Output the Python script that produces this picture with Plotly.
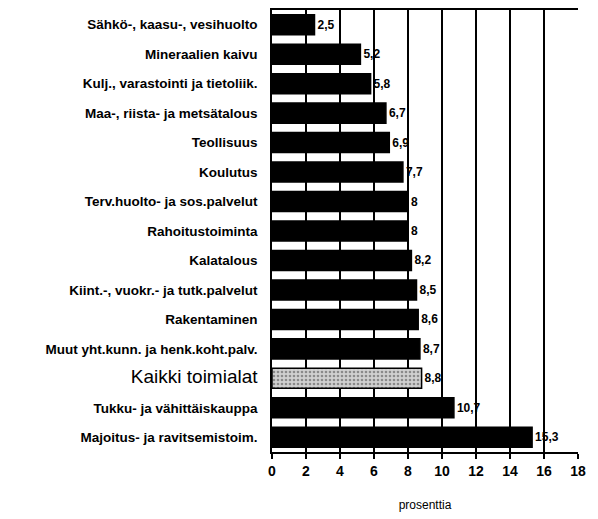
import plotly.graph_objects as go

# Toimialat ylhäältä alas
toimialat = [
    "Sähkö-, kaasu-, vesihuolto",
    "Mineraalien kaivu",
    "Kulj., varastointi ja tietoliik.",
    "Maa-, riista- ja metsätalous",
    "Teollisuus",
    "Koulutus",
    "Terv.huolto- ja sos.palvelut",
    "Rahoitustoiminta",
    "Kalatalous",
    "Kiint.-, vuokr.- ja tutk.palvelut",
    "Rakentaminen",
    "Muut yht.kunn. ja henk.koht.palv.",
    "Kaikki toimialat",
    "Tukku- ja vähittäiskauppa",
    "Majoitus- ja ravitsemistoim.",
]
prosentit = [2.5, 5.2, 5.8, 6.7, 6.9, 7.7, 8, 8, 8.2, 8.5, 8.6, 8.7, 8.8, 10.7, 15.3]
x_ticks = [0, 2, 4, 6, 8, 10, 12, 14, 16, 18]

kaikki = "Kaikki toimialat"
varit = ["#d0d0d0" if t == kaikki else "black" for t in toimialat]
kuviot = ["." if t == kaikki else "" for t in toimialat]
# "Kaikki toimialat" isommalla ja ohuemmalla fontilla, muut lihavoituna
tekstit = ['<span style="font-size:19px">%s</span>' % t if t == kaikki else "<b>%s</b>" % t
           for t in toimialat]

fig = go.Figure()
fig.add_trace(go.Bar(
    x=prosentit,
    y=toimialat,
    orientation="h",
    marker=dict(
        color=varit,
        line=dict(color="black", width=1.5),
        pattern=dict(shape=kuviot, fgcolor="#666666", size=4, solidity=0.35),
    ),
    text=prosentit,
    texttemplate="<b>%{x}</b>",
    textposition="outside",
    cliponaxis=False,
    textfont=dict(family="Liberation Sans, Arial", size=12, color="black"),
))

# sivun body-marginaali (8px) huomioitu koossa
fig.update_layout(
    width=590, height=511,
    margin=dict(l=264, r=20, t=0, b=67),
    plot_bgcolor="white",
    paper_bgcolor="white",
    separators=",.",
    bargap=0.32,
    showlegend=False,
    font=dict(family="Liberation Sans, Arial", color="black"),
)
fig.update_xaxes(
    range=[0, 18],
    tickvals=x_ticks,
    ticks="outside", ticklen=5, tickcolor="black", tickwidth=1.5,
    showgrid=True, gridcolor="black", gridwidth=1.5,
    showline=True, linecolor="black", linewidth=1.5, mirror=True,
    zeroline=False,
    tickfont=dict(size=14, weight="bold"),
    title=dict(text="prosenttia", font=dict(size=12), standoff=23),
)
fig.update_yaxes(
    autorange="reversed",
    tickvals=toimialat,
    ticktext=tekstit,
    ticks="",
    ticklabelstandoff=10,
    showline=True, linecolor="black", linewidth=1.5,
    tickfont=dict(size=13.5),
    automargin=False,
)

fig.write_html("out.html")
